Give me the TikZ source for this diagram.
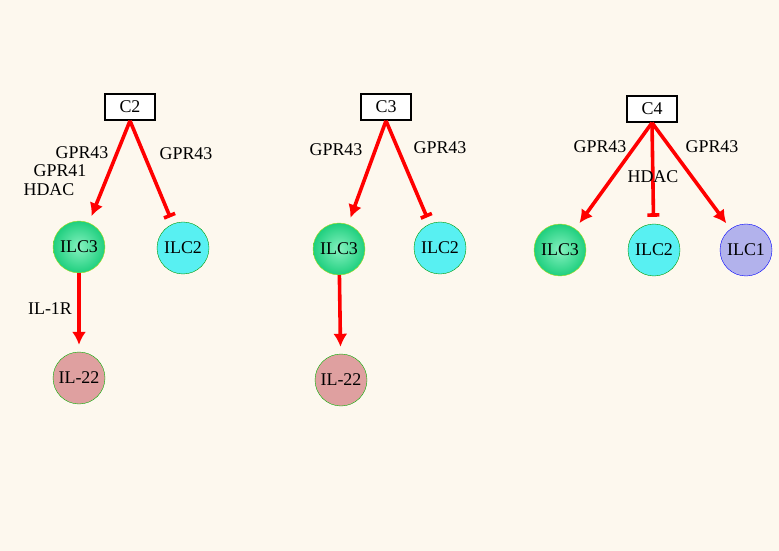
\documentclass[tikz,border=0pt]{standalone}
\usepackage{fontspec}
\setmainfont{Liberation Serif}
\usetikzlibrary{arrows.meta}
\definecolor{paper}{HTML}{FDF8EE}
\definecolor{ilcgreen}{HTML}{22E68C}
\definecolor{ilccyan}{HTML}{58F0F2}
\definecolor{ilcpink}{HTML}{DFA0A0}
\definecolor{ilcblue}{HTML}{B2B2EC}
\tikzset{
  cell/.style={circle, minimum size=52bp, inner sep=0pt, font=\fontsize{18}{18}\selectfont},
  ilcthree/.style={cell, inner color=ilcgreen!55!white, outer color=ilcgreen!90!black, draw=yellow!70!green},
  ilctwo/.style={cell, fill=ilccyan, draw=green!60!black},
  ilpink/.style={cell, fill=ilcpink, draw=green!70!black},
  ilcone/.style={cell, fill=ilcblue, draw=blue},
  chain/.style={draw=black, line width=1.6bp, fill=white, minimum width=50bp, minimum height=26bp, font=\fontsize{18}{18}\selectfont},
  lbl/.style={font=\fontsize{18}{18}\selectfont},
  act/.style={red, line width=3.6bp, -{Latex[length=13bp,width=14bp]}, shorten >=7bp},
  inh/.style={red, line width=3.6bp, -{Bar[width=12bp]}, shorten >=7bp}
}
\begin{document}
\begin{tikzpicture}[x=1bp, y=-1bp]
\fill[paper] (0,0) rectangle (779,551);
% column C2
\node[chain] (c2) at (130,107) {C2};
\node[ilcthree] (c2ilc3) at (79,247) {ILC3};
\node[ilctwo] (c2ilc2) at (183,248) {ILC2};
\node[ilpink] (c2il22) at (79,378) {IL-22};
\draw[act] (c2.south) -- (c2ilc3);
\draw[inh] (c2.south) -- (c2ilc2);
\draw[act] (c2ilc3) -- (c2il22);
\node[lbl] (l1) at (82,153) {GPR43};
\node[lbl] (l2) at (60,171) {GPR41};
\node[lbl] (l3) at (49,190) {HDAC};
\node[lbl] (l4) at (186,154) {GPR43};
\node[lbl] (l5) at (50,309) {IL-1R};
% column C3
\node[chain] (c3) at (386,107) {C3};
\node[ilcthree] (c3ilc3) at (339,249) {ILC3};
\node[ilctwo] (c3ilc2) at (440,248) {ILC2};
\node[ilpink] (c3il22) at (341,380) {IL-22};
\draw[act] (c3.south) -- (c3ilc3);
\draw[inh] (c3.south) -- (c3ilc2);
\draw[act] (c3ilc3) -- (c3il22);
\node[lbl] (l6) at (336,150) {GPR43};
\node[lbl] (l7) at (440,148) {GPR43};
% column C4
\node[chain] (c4) at (652,109) {C4};
\node[ilcthree] (c4ilc3) at (560,250) {ILC3};
\node[ilctwo] (c4ilc2) at (654,250) {ILC2};
\node[ilcone] (c4ilc1) at (746,250) {ILC1};
\draw[act] (c4.south) -- (c4ilc3);
\draw[inh] (c4.south) -- (c4ilc2);
\draw[act] (c4.south) -- (c4ilc1);
\node[lbl] (l8) at (600,147) {GPR43};
\node[lbl] (l9) at (653,177) {HDAC};
\node[lbl] (l10) at (712,147) {GPR43};
\end{tikzpicture}
\end{document}
